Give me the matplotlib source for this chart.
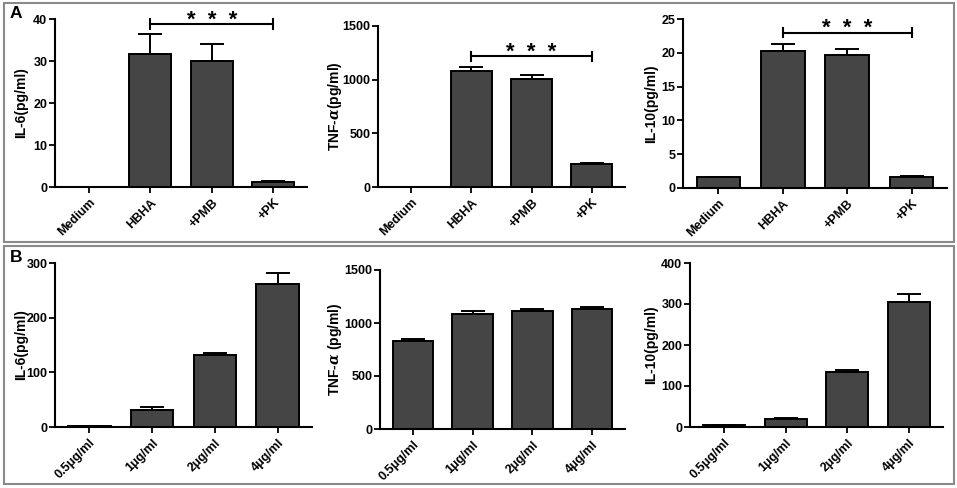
import matplotlib
matplotlib.use("Agg")
import matplotlib.pyplot as plt
from matplotlib.patches import Rectangle

plt.rcParams['font.family'] = ['Liberation Sans', 'DejaVu Sans']
plt.rcParams['font.weight'] = 'bold'
plt.rcParams['mathtext.fontset'] = 'dejavuserif'

W, H = 957, 488

# panel A: treatments
treat_labels = ["Medium", "HBHA", "+PMB", "+PK"]
a_il6 = [0, 31.6, 30.0, 1.2]
a_il6_err = [0, 4.8, 4.0, 0.2]
a_tnf = [0, 1081, 1009, 211]
a_tnf_err = [0, 35, 30, 10]
a_il10 = [1.6, 20.2, 19.7, 1.7]
a_il10_err = [0, 1.1, 0.8, 0.1]

# panel B: doses
dose_labels = ["0.5\u03bcg/ml", "1\u03bcg/ml", "2\u03bcg/ml", "4\u03bcg/ml"]
b_il6 = [1, 31, 131, 261]
b_il6_err = [0.3, 5, 4, 21]
b_tnf = [828, 1083, 1117, 1133]
b_tnf_err = [20, 30, 12, 22]
b_il10 = [4, 20, 134, 305]
b_il10_err = [0.5, 2, 5, 19]

fig = plt.figure(figsize=(W / 100, H / 100), dpi=100)


def px_axes(x0, ytop, x1, ybot):
    return fig.add_axes([x0 / W, 1 - ybot / H, (x1 - x0) / W, (ybot - ytop) / H])


def bar_panel(ax, labels, vals, errs, ymax, ystep, ylabel, label_px, x0, x1):
    x = list(range(len(vals)))
    ax.bar(x, vals, width=0.68, color='#454545', edgecolor='black', linewidth=1.4, zorder=2)
    ax.errorbar(x, vals, yerr=[[0] * len(errs), errs], fmt='none', ecolor='black',
                elinewidth=1.4, capsize=8.5, capthick=1.4, zorder=1)
    ax.set_xlim(-0.55, len(vals) - 0.45)
    ax.set_ylim(0, ymax)
    ax.set_yticks(range(0, ymax + 1, ystep))
    ax.set_xticks(x)
    ax.set_xticklabels(labels, rotation=45, ha='right', rotation_mode='anchor', fontsize=9)
    for s in ['top', 'right']:
        ax.spines[s].set_visible(False)
    for s in ['left', 'bottom']:
        ax.spines[s].set_linewidth(1.5)
    ax.tick_params(axis='both', width=1.3, length=4, labelsize=9)
    ax.tick_params(axis='x', pad=3)
    ax.tick_params(axis='y', pad=1.5)
    ax.set_ylabel(ylabel, fontsize=10, fontweight='bold')
    # label_px is the right edge of the rotated label, in pixels
    ax.yaxis.set_label_coords((label_px - x0) / (x1 - x0), 0.5)


def bracket(ax, y, tick, star_y):
    ax.plot([1, 3], [y, y], color='black', lw=1.5, clip_on=False)
    ax.plot([1, 1], [y - tick, y + tick], color='black', lw=1.5, clip_on=False)
    ax.plot([3, 3], [y - tick, y + tick], color='black', lw=1.5, clip_on=False)
    ax.text(2, star_y, "*  *  *", ha='center', va='center', fontsize=16, fontweight='bold',
            clip_on=False)


ax = px_axes(55, 19, 307, 187)
bar_panel(ax, treat_labels, a_il6, a_il6_err, 40, 10, "IL-6(pg/ml)", 28, 55, 307)
bracket(ax, 38.8, 1.2, 39.6)

ax = px_axes(378, 26, 625, 187)
bar_panel(ax, treat_labels, a_tnf, a_tnf_err, 1500, 500, "TNF-$\\alpha$(pg/ml)", 344, 378, 625)
bracket(ax, 1217, 45, 1250)

ax = px_axes(683, 19, 947, 188)
bar_panel(ax, treat_labels, a_il10, a_il10_err, 25, 5, "IL-10(pg/ml)", 658, 683, 947)
bracket(ax, 23.0, 0.7, 23.6)

ax = px_axes(55, 263, 312, 427)
bar_panel(ax, dose_labels, b_il6, b_il6_err, 300, 100, "IL-6(pg/ml)", 28, 55, 312)

ax = px_axes(380, 270, 625, 429)
bar_panel(ax, dose_labels, b_tnf, b_tnf_err, 1500, 500, "TNF-$\\alpha$ (pg/ml)", 344, 380, 625)

ax = px_axes(690, 263, 943, 427)
bar_panel(ax, dose_labels, b_il10, b_il10_err, 400, 100, "IL-10(pg/ml)", 658, 690, 943)

# gray panel frames
for top, bot in [(3, 242), (246, 484)]:
    fig.patches.append(Rectangle((4 / W, 1 - bot / H), 950 / W, (bot - top) / H,
                                 transform=fig.transFigure, fill=False,
                                 edgecolor='#8a8a8a', linewidth=1.5))

fig.text(10 / W, 1 - 14 / H, "A", fontsize=12.5, fontweight='bold', va='center')
fig.text(10 / W, 1 - 258 / H, "B", fontsize=12.5, fontweight='bold', va='center')

fig.savefig("out.png", dpi=100)
